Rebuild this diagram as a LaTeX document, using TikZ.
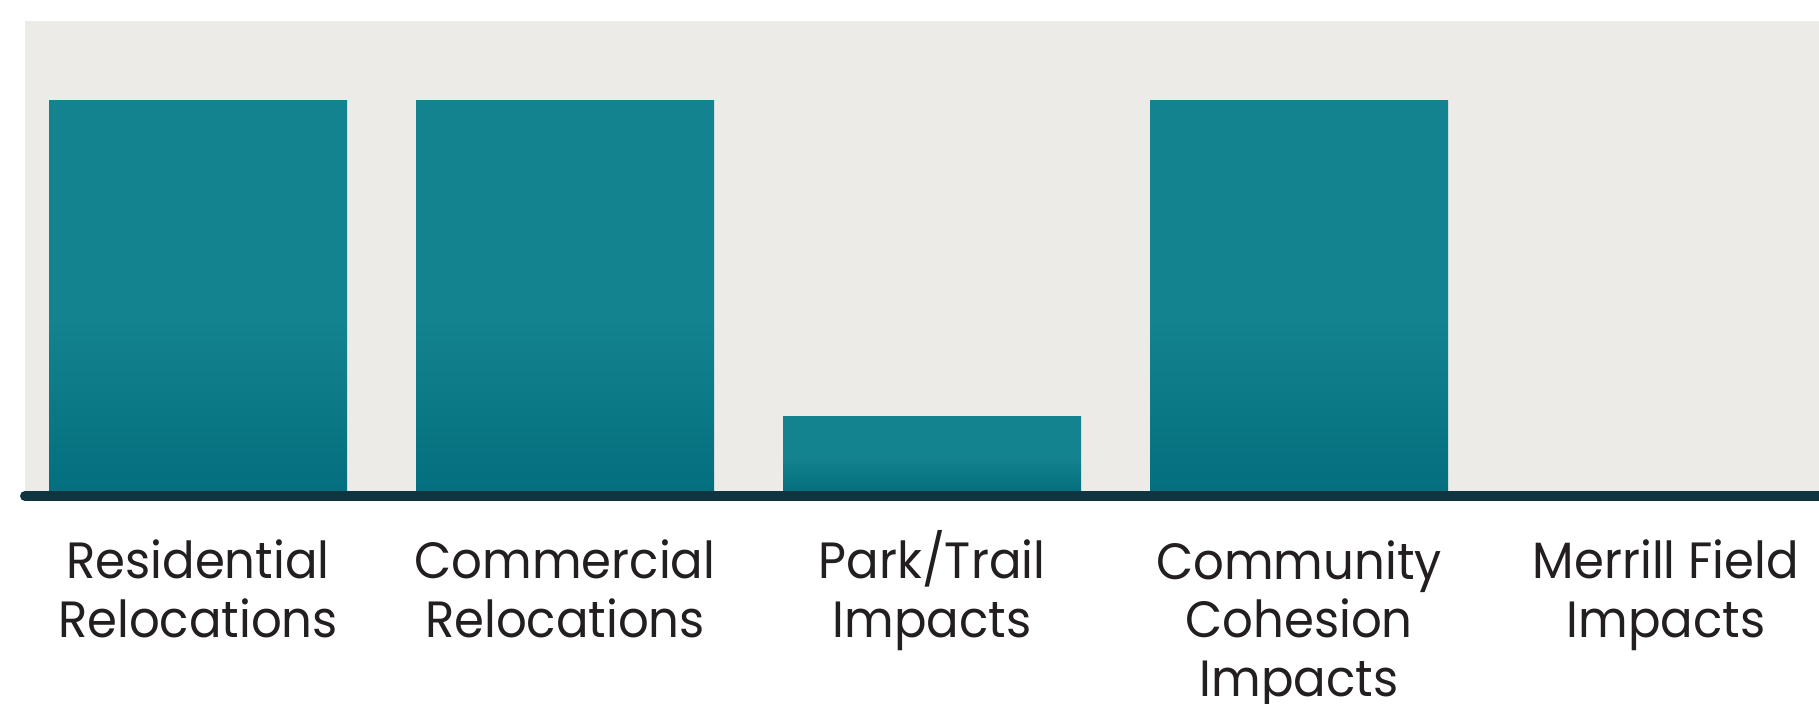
\documentclass[tikz,border=0pt]{standalone}
\usepackage{fontspec}
\setmainfont{Poppins}[FakeStretch=0.945]
\usetikzlibrary{positioning}

\definecolor{panel}{HTML}{EDEBE8}
\definecolor{bartop}{HTML}{13838F}
\definecolor{barbottom}{HTML}{046F7E}
\definecolor{axisline}{HTML}{0E3540}
\definecolor{labeltext}{HTML}{231F20}
\pgfdeclareverticalshading{barshade}{100bp}{color(0bp)=(barbottom); color(25bp)=(barbottom); color(47bp)=(bartop); color(75bp)=(bartop); color(100bp)=(bartop)}

\begin{document}
\begin{tikzpicture}[x=0.5pt,y=-0.5pt,
                    bar node/.style={rectangle,shading=barshade,anchor=south,inner sep=0pt,minimum width=149pt},
                    label node/.style={anchor=base,align=center,inner sep=0pt,text=labeltext,
                                       font=\fontsize{25.5}{29.25}\selectfont}]
  \useasboundingbox (0,0) rectangle (1819,703);
  \fill[panel] (25,21) rectangle (1819,491);
  \node[bar node,minimum height=195pt] (1) at (198,491) {};
  \node[bar node,minimum height=195pt] (2) at (565,491) {};
  \node[bar node,minimum height=37pt]  (3) at (932,491) {};
  \node[bar node,minimum height=195pt] (4) at (1299,491) {};
  \coordinate (5) at (1666,491);
  \draw[axisline,line width=5pt,line cap=round] (25,496) -- (1830,496);
  \node[label node] (l1) at (198,637) {Residential\\Relocations};
  \node[label node] (l2) at (565,637) {Commercial\\Relocations};
  \node[label node] (l3) at (932,637) {Park/Trail\\Impacts};
  \node[label node] (l4) at (1299,696) {Community\\Cohesion\\Impacts};
  \node[label node] (l5) at (1666,637) {Merrill Field\\Impacts};
\end{tikzpicture}
\end{document}
